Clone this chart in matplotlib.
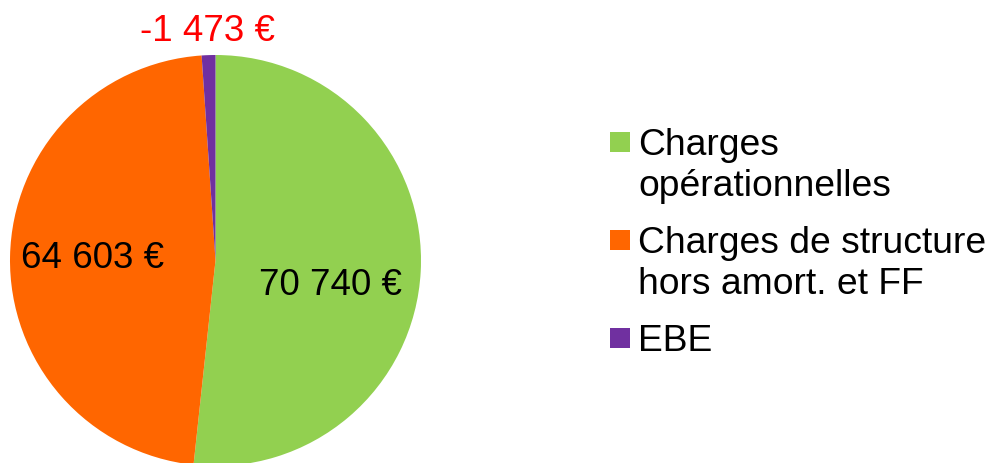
import matplotlib.pyplot as plt
from matplotlib.patches import Rectangle

plt.rcParams['font.family'] = ['Liberation Sans', 'DejaVu Sans']

# values shown on the chart
categories = ['Charges\nopérationnelles', 'Charges de structure\nhors amort. et FF', 'EBE']
values = [70740, 64603, -1473]
value_labels = ['70 740 €', '64 603 €', '-1 473 €']
colors = ['#92D050', '#FF6600', '#7030A0']
label_colors = ['black', 'black', '#FF0000']

W, H = 989, 463
fig = plt.figure(figsize=(W / 100, H / 100), dpi=100)

# pie centre at (215.5, 260.5) px, radius 205.5 px
cx, cy, r = 215.5, 260.5, 205.5
ax = fig.add_axes([(cx - r) / W, (H - cy - r) / H, 2 * r / W, 2 * r / H])
ax.pie([abs(v) for v in values], colors=colors, startangle=90, counterclock=False,
       wedgeprops=dict(linewidth=0))
ax.set_xlim(-1, 1)
ax.set_ylim(-1, 1)
ax.set_aspect('equal')
ax.axis('off')

# data label positions (in pie radius units)
label_pos = [(0.56, -0.12), (-0.60, 0.01), (-0.04, 1.115)]
for lbl, (x, y), c in zip(value_labels, label_pos, label_colors):
    ax.text(x, y, lbl, ha='center', va='center', fontsize=26.5, color=c, clip_on=False)

# legend drawn by hand: square + text lines on fixed baselines
sq = 20
marker_top = [132, 230, 328]
line_gap = 41
for cat, col, top in zip(categories, colors, marker_top):
    fig.patches.append(Rectangle((610 / W, (H - top - sq) / H), sq / W, sq / H,
                                 facecolor=col, edgecolor='none', transform=fig.transFigure))
    for i, line in enumerate(cat.split('\n')):
        base = top + sq + 3 + i * line_gap
        fig.text(638 / W, (H - base) / H, line, ha='left', va='baseline', fontsize=26.8)

fig.savefig('out.png', dpi=100)
